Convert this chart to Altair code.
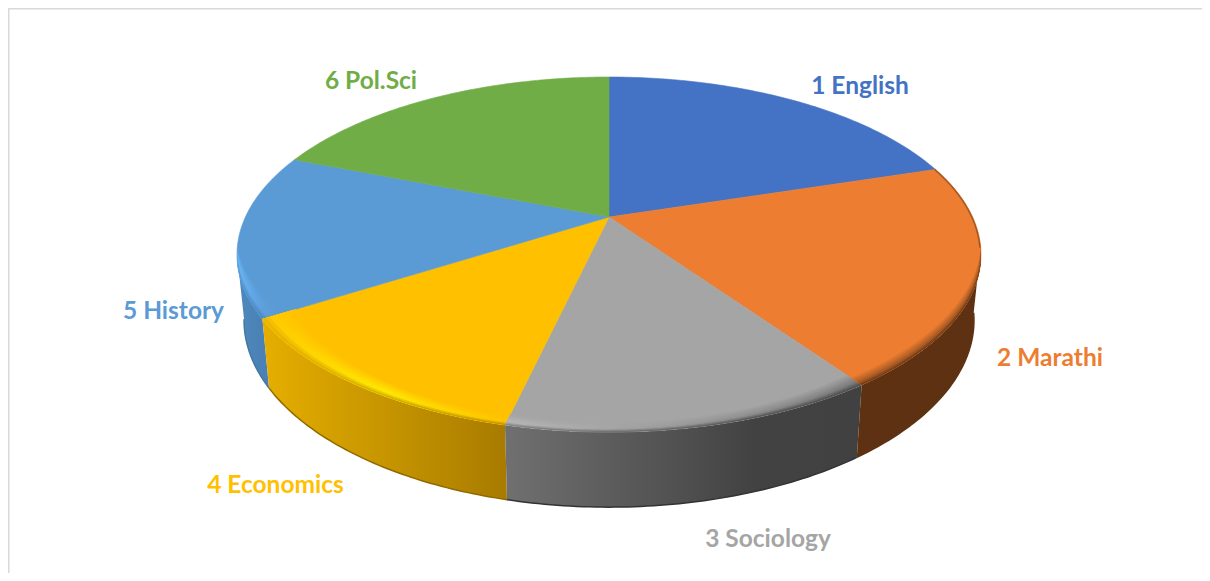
import numpy as np
import altair as alt

# ---- values
subjects = ["1 English", "2 Marathi", "3 Sociology", "4 Economics", "5 History", "6 Pol.Sci"]
shares = [20.2, 20.1, 13.4, 12.4, 14.9, 19.1]
face_colors = ["#4472C4", "#ED7D31", "#A5A5A5", "#FFC000", "#5B9BD5", "#70AD47"]

# ---- layout
W, H = 1194, 565
OFF = 8
label_x = [860, 1050, 768, 275.5, 173.5, 371]
label_y = [87, 359, 540, 486, 312, 82]

CX = 609 - OFF
K = 0.2115
TOP = dict(apex=217 - OFF, A=363.6, B=169.6)
BOT = dict(apex=280.5 - OFF, A=356.7, B=178.7)


def pt(theta, g):
    t = np.radians(theta)
    u, v = np.sin(t), np.cos(t)
    d = 1 + K * v
    return CX + g["A"] * u / d, g["apex"] - g["B"] * v / d


def arc(a, b, g, n=60):
    th = np.linspace(a, b, n)
    x, y = pt(th, g)
    return np.column_stack([x, y])


def feature(ring):
    ring = [[float(p[0]), float(p[1])] for p in ring]
    ring.append(ring[0])
    return {"type": "Feature", "properties": {}, "geometry": {"type": "Polygon", "coordinates": [ring]}}


def line_feature(points):
    pts = [[float(p[0]), float(p[1])] for p in points]
    return {"type": "Feature", "properties": {}, "geometry": {"type": "LineString", "coordinates": pts}}


proj = alt.Projection(type="identity", scale=1, translate=[0, 0])


def shape(f, **mark):
    return alt.Chart(alt.Data(values=[f])).mark_geoshape(**mark).project(**proj.to_dict())


def hex2rgb(h):
    h = h.lstrip("#")
    return np.array([int(h[i:i + 2], 16) for i in (0, 2, 4)], dtype=float)


def mix(a, b, t):
    c = hex2rgb(a) * (1 - t) + hex2rgb(b) * t
    return "#%02x%02x%02x" % tuple(int(round(x)) for x in c)


def grad(stops):
    return alt.LinearGradient(
        gradient="linear", x1=0, x2=1, y1=0, y2=0,
        stops=[alt.GradientStop(color=c, offset=o) for o, c in stops],
    )


edges = np.concatenate([[0], np.cumsum(shares)]) / sum(shares) * 360

# front walls, per wedge index:
# lo angle, hi angle, wall stops, highlight stops, bevel height, bevel lean at lo and hi, bottom edge colour
walls = [
    (4, edges[4], 258.0, [(0, "#4F89BF"), (.5, "#4C84B8"), (1, "#4A80B3")],
     [(0, "#6ABAFA"), (.5, "#62A8E8"), (1, "#5B9BD5")], 6, (3.3, 0.0), "#46789f"),
    (3, edges[3], edges[4], [(0, "#E6AE00"), (.5, "#C69500"), (1, "#A87B00")],
     [(0, "#FFC800"), (.5, "#FFEC00"), (1, "#FFC400")], 10, (0.5, 3.3), "#8f6a00"),
    (2, edges[2], edges[3], [(0, "#707070"), (.7, "#424242"), (1, "#414141")],
     [(0, "#B8B8B8"), (.7, "#8C8C8C"), (1, "#787878")], 11, (-1.5, 0.5), "#333333"),
    (1, 100.0, edges[2], [(0, "#5E3113"), (1, "#5E3113")],
     [(0, "#A85A24"), (1, "#A85A24")], 8, (0.0, -1.5), "#5E3113"),
]

layers = []

# side walls
for idx, lo, up, wall, hi, S, lean, edge in walls:
    ring = list(arc(lo, up, TOP)) + list(arc(up, lo, BOT))
    layers.append(shape(feature(ring), fill=grad(wall), stroke=None))
    layers.append(shape(line_feature(arc(lo, up, BOT)), filled=False, stroke=edge, strokeWidth=1.5))

# top faces
for i, c in enumerate(face_colors):
    apex = [CX, TOP["apex"]]
    ring = [apex] + list(arc(edges[i], edges[i + 1], TOP, 90))
    layers.append(shape(feature(ring), fill=c, stroke=c, strokeWidth=0.6))

# bevel along the front rim
for idx, lo, up, wall, hi, S, lean, edge in walls:
    th = np.linspace(lo, up, 70)
    x0, y0 = pt(th, TOP)
    base = np.column_stack([x0, y0])
    sl = np.linspace(lean[0], lean[1], 70)
    face = face_colors[idx]
    wall_map = dict(wall)
    hi_map = dict(hi)
    offs = sorted(wall_map)
    for s in np.linspace(S, S / 9, 9):
        t = s / S
        stops = []
        for o in offs:
            if t < 0.35:
                col = mix(wall_map[o], hi_map[o], t / 0.35)
            else:
                col = mix(hi_map[o], face, (t - 0.35) / 0.65)
            stops.append((o, col))
        top = np.column_stack([x0 + s * sl, y0 - s])
        ring = list(top) + list(base[::-1])
        layers.append(shape(feature(ring), fill=grad(stops), stroke=None))

# thin dark edge on the upper right of the orange wedge
ex, ey = pt(np.linspace(edges[1], 100, 30), TOP)
layers.append(shape(line_feature(np.column_stack([ex - 0.8, ey])),
                    filled=False, stroke="#8A4A1C", strokeWidth=1.6, strokeOpacity=0.7))

x_scale = alt.Scale(domain=[0, W], range=[0, W])
y_scale = alt.Scale(domain=[0, H], range=[0, H])

# frame
frame_rows = [{"x": 0.5, "y": 0, "x2": 0.5, "y2": H}, {"x": 0, "y": 0.5, "x2": W, "y2": 0.5}]
frame = alt.Chart(alt.Data(values=frame_rows)).mark_rule(color="#D9D9D9", strokeWidth=2).encode(
    x=alt.X("x:Q", scale=x_scale, axis=None), y=alt.Y("y:Q", scale=y_scale, axis=None),
    x2="x2:Q", y2="y2:Q",
)

# labels
rows = [{"t": t, "x": x - OFF, "y": y - OFF, "c": c}
        for t, x, y, c in zip(subjects, label_x, label_y, face_colors)]
text = alt.Chart(alt.Data(values=rows)).mark_text(
    font="Lato", fontSize=24.5, fontWeight="bold", align="center", baseline="middle"
).encode(
    x=alt.X("x:Q", scale=x_scale, axis=None), y=alt.Y("y:Q", scale=y_scale, axis=None),
    text="t:N", color=alt.Color("c:N", scale=None),
)

chart = alt.layer(*layers, frame, text).properties(
    width=W, height=H, padding=0, autosize=alt.AutoSizeParams(type="none"),
    background="white",
).configure_view(stroke=None)

chart.save("out.html", embed_options={"renderer": "svg", "actions": False})
